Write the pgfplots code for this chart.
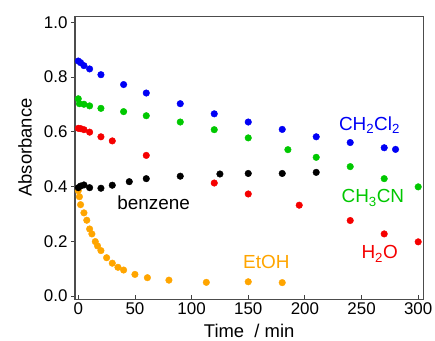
\documentclass[border=0pt]{standalone}
\usepackage{fontspec}
\setmainfont{Liberation Sans}
\usepackage{pgfplots}
\pgfplotsset{compat=1.18}
\definecolor{cblue}{RGB}{0,0,245}
\definecolor{cgreen}{RGB}{0,200,0}
\definecolor{cred}{RGB}{245,0,0}
\definecolor{corange}{RGB}{255,165,0}
\begin{document}
\begin{tikzpicture}
\begin{axis}[
  scale only axis, width=348.3bp, height=282.6bp,
  xmin=-2.9, xmax=304.5, ymin=-0.012, ymax=1.021,
  axis line style={line width=1.2bp, draw=black!70},
  xtick={0,50,100,150,200,250,300},
  ytick={0,0.2,0.4,0.6,0.8,1.0},
  tick pos=left,
  xtick align=inside, ytick align=outside,
  major tick length=4bp,
  tick style={black!75, line width=0.8bp},
  /pgf/number format/assume math mode=true,
  yticklabel style={/pgf/number format/.cd, fixed, fixed zerofill, precision=1},
  ticklabel style={font=\fontsize{17}{20}\selectfont},
  xlabel={Time\ \ / min}, ylabel={Absorbance},
  xlabel style={font=\fontsize{18.5}{22}\selectfont, at={(axis description cs:0.5,-0.111)}, anchor=center},
  ylabel style={font=\fontsize{18.5}{22}\selectfont, at={(axis description cs:-0.1435,0.537)}, anchor=center, rotate=0},
  every axis plot/.append style={only marks, mark=*, mark size=3.3bp},
]
\coordinate (O) at (rel axis cs:0,0);
\addplot[color=corange, mark options={fill=corange, draw=corange}] coordinates {
(0,0.385) (1,0.363) (2,0.334) (5,0.304) (7.5,0.277) (10,0.245) (12,0.227) (15,0.199) (17,0.183) (20,0.166) (25,0.140) (30,0.120) (35,0.105) (40,0.095) (50,0.079) (61,0.067) (80,0.058) (113,0.050) (150,0.052) (180,0.049)
};
\addplot[color=black, mark options={fill=black, draw=black}] coordinates {
(0,0.396) (2,0.402) (5,0.406) (10,0.396) (20,0.394) (30,0.405) (45,0.418) (60,0.429) (90,0.438) (125,0.446) (150,0.448) (180,0.448) (210,0.452)
};
\addplot[color=cred, mark options={fill=cred, draw=cred}] coordinates {
(0,0.613) (2,0.612) (5,0.608) (10,0.599) (20,0.582) (30,0.567) (60,0.514) (120,0.413) (150,0.373) (195,0.332) (240,0.276) (270,0.227) (300,0.198)
};
\addplot[color=cgreen, mark options={fill=cgreen, draw=cgreen}] coordinates {
(0,0.721) (1,0.703) (5,0.701) (10,0.695) (20,0.686) (40,0.674) (60,0.659) (90,0.636) (120,0.608) (150,0.578) (185,0.535) (210,0.507) (240,0.473) (270,0.429) (300,0.399)
};
\addplot[color=cblue, mark options={fill=cblue, draw=cblue}] coordinates {
(0,0.859) (2,0.853) (5,0.842) (10,0.830) (20,0.809) (40,0.773) (60,0.742) (90,0.703) (120,0.666) (150,0.636) (180,0.609) (210,0.582) (240,0.561) (270,0.542) (280,0.536)
};
\node[text=cblue, font=\fontsize{19}{22}\selectfont] at (axis cs:257,0.625) {CH\textsubscript{2}Cl\textsubscript{2}};
\node[text=cgreen, font=\fontsize{19}{22}\selectfont] at (axis cs:260,0.358) {CH\textsubscript{3}CN};
\node[text=cred, font=\fontsize{19}{22}\selectfont] at (axis cs:266,0.154) {H\textsubscript{2}O};
\node[text=corange, font=\fontsize{19}{22}\selectfont] at (axis cs:166,0.124) {EtOH};
\node[text=black, font=\fontsize{19}{22}\selectfont] at (axis cs:66.5,0.340) {benzene};
\end{axis}
\pgfresetboundingbox
\path (O) ++(-75bp,-41.7bp) rectangle ++(435bp,341bp);
\end{tikzpicture}
\end{document}
